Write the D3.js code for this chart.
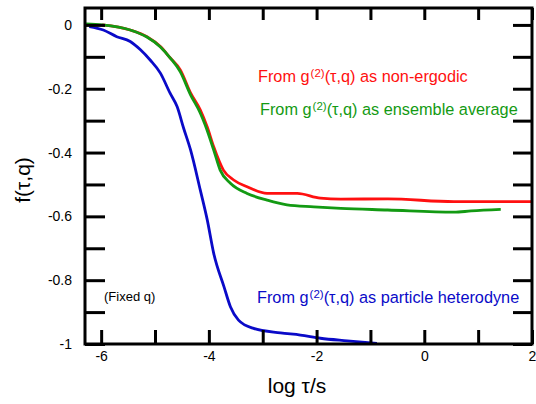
<!DOCTYPE html>
<html lang="en">
<head>
    <meta charset="UTF-8">
    <title>f(tau,q)</title>
    <script src="https://d3js.org/d3.v7.min.js"></script>
    <style>
        body { margin: 0; background: #fff; }
        svg { display: block; font-family: "Liberation Sans", Arial, sans-serif; }
        .axis text { font-size: 14px; fill: #000; }
        .axis line { stroke: #000; stroke-width: 3px; }
        .curve { fill: none; stroke-width: 2.8px; stroke-linejoin: round; }
    </style>
</head>
<body>
<svg width="536" height="404"></svg>
<script>
    // ---- data: [log tau, f]
    const nonErgodic = [
        [-5.98, 0], [-5.46, -0.016], [-5.15, -0.037], [-4.90, -0.068], [-4.72, -0.103],
        [-4.53, -0.141], [-4.34, -0.213], [-4.16, -0.266], [-4.03, -0.320], [-3.91, -0.382],
        [-3.73, -0.455], [-3.54, -0.486], [-3.29, -0.507], [-2.92, -0.528], [-2.36, -0.528],
        [-1.93, -0.543], [-1.55, -0.546], [-0.68, -0.545], [0.55, -0.554], [2.0, -0.554]
    ];
    const ensembleAvg = [
        [-6.28, 0.003], [-5.98, 0], [-5.46, -0.016], [-5.15, -0.038], [-4.90, -0.069],
        [-4.72, -0.103], [-4.53, -0.147], [-4.34, -0.219], [-4.16, -0.276], [-4.07, -0.313],
        [-3.91, -0.392], [-3.79, -0.455], [-3.60, -0.496], [-3.29, -0.528], [-2.92, -0.549],
        [-2.55, -0.564], [-2.05, -0.570], [-1.55, -0.575], [-0.68, -0.580], [0.55, -0.587],
        [0.87, -0.583], [1.42, -0.578]
    ];
    const heterodyne = [
        [-6.22, -0.005], [-5.96, -0.016], [-5.71, -0.037], [-5.46, -0.052], [-5.27, -0.078],
        [-5.09, -0.110], [-4.90, -0.151], [-4.72, -0.214], [-4.59, -0.256], [-4.47, -0.323],
        [-4.34, -0.392], [-4.16, -0.517], [-4.03, -0.611], [-3.91, -0.716], [-3.72, -0.820],
        [-3.60, -0.883], [-3.45, -0.925], [-3.17, -0.951], [-2.67, -0.965], [-2.30, -0.972],
        [-1.93, -0.982], [-1.43, -0.990], [-0.88, -0.998]
    ];

    const xTicks = [-6, -5, -4, -3, -2, -1, 0, 1, 2];
    const xTickLabels = {"-6": "-6", "-4": "-4", "-2": "-2", "0": "0", "2": "2"};
    const yTicks = [0, -0.1, -0.2, -0.3, -0.4, -0.5, -0.6, -0.7, -0.8, -0.9, -1];
    const yTickLabels = {"0": "0", "-0.2": "-0.2", "-0.4": "-0.4", "-0.6": "-0.6", "-0.8": "-0.8", "-1": "-1"};

    const series = [
        { name: "non-ergodic", data: nonErgodic, color: "#ff1010" },
        { name: "ensemble average", data: ensembleAvg, color: "#139a13" },
        { name: "particle heterodyne", data: heterodyne, color: "#0a0ac8" }
    ];

    // ---- layout
    const box = { left: 85, right: 532, top: 8, bottom: 344 };
    const svg = d3.select("svg");

    const x = d3.scaleLinear().domain([-6.3, 2]).range([box.left, box.right]);
    const y = d3.scaleLinear().domain([-1, 0.053]).range([box.bottom, box.top]);

    const fmt = (labels) => d => labels[String(+d.toFixed(1))] || "";

    // curves first, axes on top
    const line = d3.line()
        .x(d => x(d[0]))
        .y(d => y(d[1]))
        .curve(d3.curveMonotoneX);

    svg.selectAll(".curve")
        .data(series)
        .enter()
        .append("path")
        .attr("class", "curve")
        .attr("stroke", d => d.color)
        .attr("d", d => line(d.data));

    // axes (ticks point inward)
    svg.append("g").attr("class", "axis")
        .attr("transform", `translate(0,${box.bottom})`)
        .call(d3.axisBottom(x).tickValues(xTicks).tickSize(-14).tickPadding(7).tickFormat(fmt(xTickLabels)));
    svg.append("g").attr("class", "axis")
        .attr("transform", `translate(0,${box.top})`)
        .call(d3.axisTop(x).tickValues(xTicks).tickSize(-12).tickFormat(""));
    svg.append("g").attr("class", "axis")
        .attr("transform", `translate(${box.left},0)`)
        .call(d3.axisLeft(y).tickValues(yTicks).tickSize(-20).tickPadding(13).tickFormat(fmt(yTickLabels)));
    svg.append("g").attr("class", "axis")
        .attr("transform", `translate(${box.right},0)`)
        .call(d3.axisRight(y).tickValues(yTicks).tickSize(-19).tickFormat(""));
    svg.selectAll(".axis .domain").remove();

    svg.append("rect")
        .attr("x", box.left).attr("y", box.top)
        .attr("width", box.right - box.left).attr("height", box.bottom - box.top)
        .attr("fill", "none").attr("stroke", "#000").attr("stroke-width", 3);

    // axis titles
    svg.append("text")
        .attr("x", 297).attr("y", 393)
        .attr("text-anchor", "middle")
        .style("font-size", "21px")
        .text("log τ/s");
    svg.append("text")
        .attr("transform", "translate(30,180) rotate(-90)")
        .attr("text-anchor", "middle")
        .style("font-size", "21px")
        .text("f(τ,q)");

    // annotations
    const notes = [
        { s: series[0], x: 258, y: 82 },
        { s: series[1], x: 260, y: 115 },
        { s: series[2], x: 257, y: 303 }
    ];
    notes.forEach(n => {
        const t = svg.append("text")
            .attr("x", n.x).attr("y", n.y)
            .attr("fill", n.s.color)
            .style("font-size", "16.3px");
        t.append("tspan").text("From g");
        t.append("tspan").attr("dx", 1).attr("dy", -5).style("font-size", "11.5px").text("(2)");
        t.append("tspan").attr("dy", 5).text("(τ,q) as " + n.s.name);
    });

    svg.append("text")
        .attr("x", 104).attr("y", 301)
        .style("font-size", "13px")
        .text("(Fixed q)");
</script>
</body>
</html>
